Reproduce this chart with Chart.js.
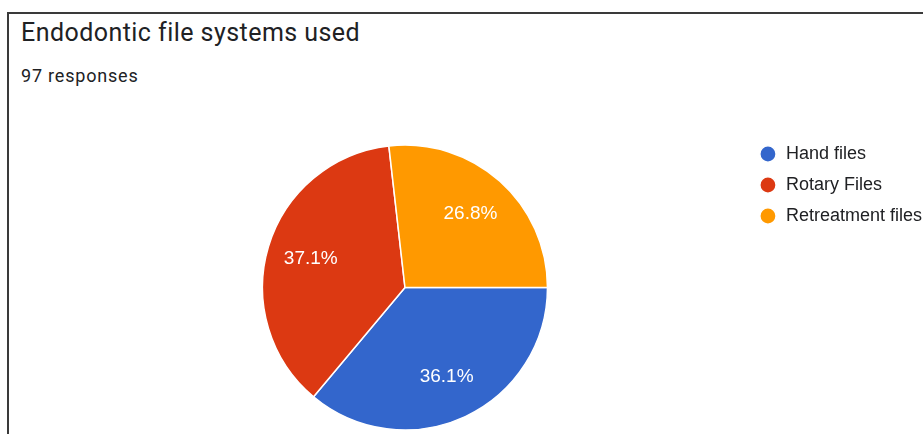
<!DOCTYPE html>
<html>
<head>
<meta charset="utf-8">
<title>Endodontic file systems used</title>
<script src="https://cdn.jsdelivr.net/npm/chart.js@4.4.1/dist/chart.umd.min.js"></script>
<style>
  html, body { margin: 0; padding: 0; background: #fff; overflow: hidden; width: 923px; height: 434px; }
  .card {
    position: absolute; left: 7px; top: 12px; width: 940px; height: 440px;
    border-left: 2px solid #3a3a3a; border-top: 2px solid #3a3a3a;
  }
  .titulo {
    position: absolute; left: 21px; top: 18px; margin: 0;
    font: 400 25px Roboto, sans-serif; letter-spacing: 0.45px; color: #202124; white-space: nowrap;
  }
  .respuestas {
    position: absolute; left: 21px; top: 65px; margin: 0;
    font: 400 18px Roboto, sans-serif; letter-spacing: 0.8px; color: #202124; white-space: nowrap;
  }
  .grafico { position: absolute; left: 64px; top: 132px; width: 868px; height: 311px; }
</style>
</head>
<body>
<div class="card"></div>
<h1 class="titulo">Endodontic file systems used</h1>
<p class="respuestas">97 responses</p>
<div class="grafico"><canvas id="graficoPie"></canvas></div>

<script>
// respuestas por sistema de limas
const categorias = ['Hand files', 'Rotary Files', 'Retreatment files'];
const respuestas = [35, 36, 26];
const colores = ['#3366cc', '#dc3912', '#ff9900'];

// porcentaje dentro de cada sector
const etiquetasPorcentaje = {
    id: 'etiquetasPorcentaje',
    afterDatasetsDraw(chart) {
        const ctx = chart.ctx;
        const datos = chart.data.datasets[0].data;
        const total = datos.reduce((a, b) => a + b, 0);
        const arcos = chart.getDatasetMeta(0).data;
        ctx.save();
        ctx.fillStyle = '#ffffff';
        ctx.font = '19px "Liberation Sans", Arial, sans-serif';
        ctx.textAlign = 'center';
        ctx.textBaseline = 'middle';
        arcos.forEach((arco, i) => {
            const p = arco.getProps(['x', 'y', 'startAngle', 'endAngle', 'outerRadius'], true);
            const medio = (p.startAngle + p.endAngle) / 2;
            const r = p.outerRadius * 0.69;
            const texto = (datos[i] / total * 100).toFixed(1) + '%';
            ctx.fillText(texto, p.x + Math.cos(medio) * r, p.y + Math.sin(medio) * r);
        });
        ctx.restore();
    }
};

const ctx = document.getElementById('graficoPie').getContext('2d');
const grafico = new Chart(ctx, {
    type: 'pie',
    data: {
        labels: categorias,
        datasets: [{
            data: respuestas,
            backgroundColor: colores,
            borderColor: '#ffffff',
            borderWidth: 1.5
        }]
    },
    options: {
        responsive: true,
        maintainAspectRatio: false,
        animation: false,
        rotation: 90,
        radius: 142.5,
        layout: { padding: 0 },
        plugins: {
            tooltip: { enabled: false },
            legend: {
                position: 'right',
                align: 'start',
                labels: {
                    usePointStyle: true,
                    pointStyle: 'circle',
                    boxWidth: 18,
                    boxHeight: 11.5,
                    padding: 13,
                    color: '#202124',
                    font: { family: '"Liberation Sans", Arial, sans-serif', size: 18 }
                }
            }
        }
    },
    plugins: [etiquetasPorcentaje]
});
</script>
</body>
</html>
